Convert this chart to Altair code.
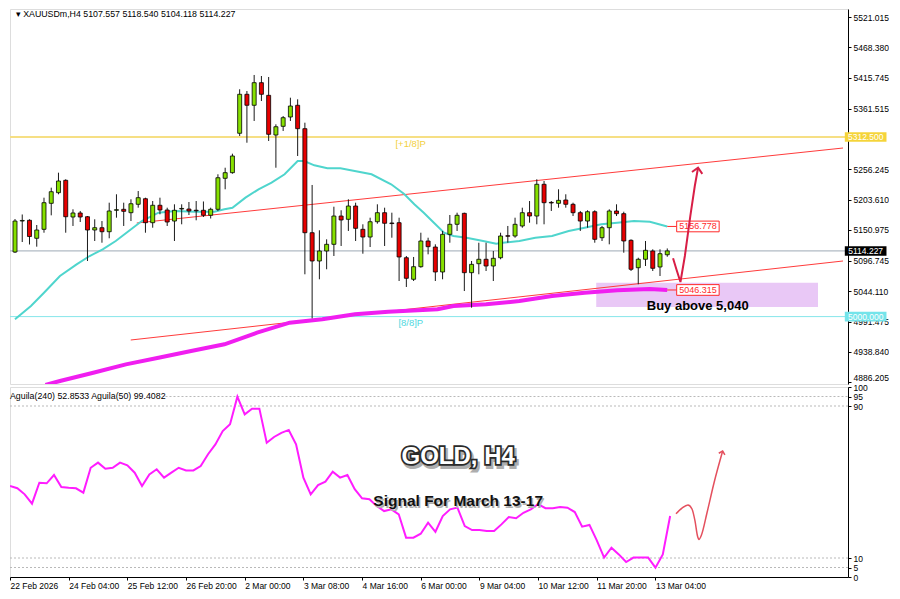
import altair as alt
import pandas as pd
import numpy as np

# ---------------- data ----------------
OPEN = [5112.3, 5166.2, 5167.5, 5136.2, 5151.8, 5197.0, 5215.5, 5237.0, 5173.2, 5180.2,
        5173.7, 5150.6, 5154.6, 5147.6, 5184.9, 5186.6, 5180.7, 5195.3, 5205.0, 5163.3,
        5193.6, 5185.4, 5166.2, 5187.1, 5187.1, 5184.5, 5184.9, 5176.2, 5186.6, 5240.5,
        5250.3, 5318.8, 5386.6, 5367.5, 5406.8, 5384.8, 5315.8, 5330.9, 5347.1, 5367.5,
        5326.8, 5145.9, 5096.7, 5114.1, 5125.7, 5174.9, 5169.2, 5192.3, 5151.8, 5138.4,
        5165.0, 5180.7, 5162.3, 5163.3, 5102.4, 5064.9, 5086.8, 5131.5, 5121.0, 5077.6,
        5143.1, 5160.5, 5179.6, 5076.4, 5092.0, 5099.7, 5088.0, 5102.4, 5140.2, 5140.2,
        5157.6, 5180.7, 5174.9, 5230.1, 5198.1, 5197.0, 5202.8, 5195.3, 5180.7, 5166.2,
        5182.4, 5137.2, 5154.6, 5183.7, 5179.0, 5132.7, 5085.0, 5099.7, 5114.1, 5086.3,
        5107.557]
HIGH = [5169.7, 5177.6, 5169.2, 5159.3, 5206.8, 5224.2, 5250.3, 5238.8, 5186.6, 5183.7,
        5174.9, 5169.2, 5166.2, 5198.1, 5212.7, 5198.1, 5204.0, 5218.4, 5206.8, 5201.0,
        5206.8, 5189.4, 5195.3, 5195.3, 5199.3, 5201.0, 5200.2, 5189.4, 5247.5, 5258.9,
        5283.3, 5395.3, 5392.3, 5420.2, 5418.4, 5416.7, 5334.4, 5348.8, 5380.7, 5377.9,
        5337.2, 5228.9, 5150.1, 5134.4, 5191.1, 5184.9, 5204.0, 5198.1, 5160.5, 5172.0,
        5195.3, 5189.4, 5180.7, 5172.0, 5105.4, 5103.7, 5145.9, 5137.2, 5125.7, 5148.9,
        5176.7, 5180.7, 5180.7, 5096.7, 5128.5, 5128.5, 5114.1, 5145.9, 5157.6, 5172.0,
        5189.4, 5201.0, 5238.8, 5235.8, 5201.0, 5221.4, 5212.7, 5198.1, 5183.7, 5184.9,
        5184.9, 5157.6, 5186.6, 5195.3, 5182.4, 5134.4, 5102.4, 5131.5, 5117.0, 5117.0,
        5118.540]
LOW = [5110.6, 5129.7, 5125.4, 5121.6, 5145.9, 5176.1, 5212.7, 5145.9, 5157.6, 5164.5,
       5096.7, 5131.5, 5128.5, 5136.2, 5172.0, 5157.6, 5166.2, 5189.4, 5145.9, 5154.6,
       5177.9, 5157.6, 5131.5, 5160.5, 5176.7, 5167.5, 5173.2, 5170.6, 5183.7, 5221.4,
       5248.5, 5314.1, 5302.4, 5340.2, 5374.9, 5305.4, 5258.9, 5322.8, 5340.2, 5279.3,
       5073.6, 4997.0, 5064.9, 5082.3, 5105.4, 5122.8, 5148.9, 5131.5, 5109.4, 5121.0,
       5161.6, 5122.8, 5137.2, 5061.9, 5051.5, 5061.9, 5085.0, 5108.3, 5061.9, 5064.9,
       5128.5, 5148.9, 5044.5, 5015.5, 5073.6, 5079.3, 5061.9, 5099.7, 5128.5, 5137.2,
       5154.6, 5163.3, 5160.5, 5160.5, 5183.7, 5189.4, 5189.4, 5174.9, 5148.9, 5154.6,
       5128.5, 5131.5, 5125.7, 5174.9, 5111.1, 5079.3, 5056.2, 5088.0, 5079.3, 5070.6,
       5104.118]
CLOSE = [5166.2, 5167.0, 5139.3, 5150.6, 5198.1, 5217.2, 5235.8, 5173.7, 5180.2, 5173.2,
         5150.6, 5154.6, 5147.6, 5183.7, 5185.6, 5183.1, 5196.3, 5206.8, 5163.3, 5193.6,
         5185.4, 5164.5, 5184.9, 5187.6, 5183.7, 5184.0, 5176.2, 5186.6, 5241.5, 5250.3,
         5279.3, 5386.6, 5367.5, 5406.8, 5386.6, 5317.0, 5330.2, 5345.9, 5366.2, 5326.8,
         5145.9, 5096.7, 5114.1, 5125.7, 5174.9, 5168.0, 5192.3, 5153.5, 5138.4, 5165.0,
         5180.7, 5162.3, 5161.8, 5103.7, 5066.6, 5086.8, 5131.5, 5121.6, 5077.6, 5143.1,
         5160.5, 5176.2, 5076.4, 5090.9, 5099.7, 5088.0, 5101.4, 5140.2, 5139.7, 5160.5,
         5180.7, 5174.9, 5230.1, 5198.1, 5197.6, 5202.2, 5195.3, 5180.7, 5166.2, 5182.4,
         5134.4, 5154.6, 5183.7, 5179.0, 5131.5, 5082.3, 5099.7, 5115.3, 5084.0, 5109.4,
         5114.227]

AGUILA = [47.9, 46.7, 43.5, 38.6, 49.6, 49.3, 53.7, 47.4, 47.0, 46.7,
          44.4, 57.5, 60.2, 57.0, 57.5, 60.2, 58.8, 54.9, 47.9, 54.0,
          56.7, 52.3, 54.9, 57.5, 56.1, 56.1, 58.4, 64.6, 69.8, 76.8,
          80.4, 94.9, 85.6, 88.6, 88.6, 70.7, 73.7, 75.9, 77.4, 69.8,
          52.3, 43.5, 48.4, 50.2, 55.4, 52.3, 53.7, 46.2, 41.4, 40.9,
          37.4, 34.7, 35.6, 33.0, 20.7, 20.7, 22.8, 28.6, 23.8, 32.1,
          35.6, 36.5, 26.8, 24.7, 24.7, 24.2, 24.2, 27.7, 31.6, 30.9,
          33.8, 35.6, 38.3, 36.2, 36.2, 36.8, 36.5, 34.2, 26.5, 27.4,
          19.3, 10.2, 15.4, 11.9, 7.9, 10.2, 10.2, 10.2, 4.9, 11.9, 32.1]

CYAN_I = [0, 2.2, 4.0, 6.2, 8.5, 10.3, 12.1, 13.9, 15.7, 17.5, 19.8, 22.1, 24.8, 27.5,
          28.9, 30.0, 31.8, 33.6, 35.4, 37.2, 39.0, 39.9, 41.3, 43.1, 44.9, 49.2, 51.9,
          53.7, 55.1, 56.4, 57.8, 59.2, 60.5, 62.3, 64.6, 66.4, 67.3, 69.6, 71.8, 74.1,
          76.4, 78.6, 80.9, 83.1, 85.4, 87.6, 90]
CYAN_P = [4995.3, 5018.4, 5041.6, 5070.6, 5090.9, 5105.4, 5117.0, 5131.5, 5148.9, 5166.2,
          5180.7, 5183.7, 5182.4, 5182.4, 5186.6, 5189.4, 5206.8, 5221.4, 5232.9, 5247.5,
          5270.6, 5270.6, 5263.1, 5257.9, 5257.9, 5247.5, 5230.1, 5213.2, 5195.3, 5180.7,
          5163.3, 5145.9, 5140.2, 5137.2, 5131.5, 5126.8, 5128.5, 5131.5, 5137.2, 5140.2,
          5148.9, 5154.6, 5160.5, 5163.3, 5166.2, 5165.0, 5156.8]

MAG_I = [4.2, 6.2, 10.8, 15.3, 19.8, 24.3, 28.9, 33.4, 37.9, 42.4, 46.9, 51.5, 58.3,
         60.5, 65.0, 69.6, 74.1, 78.6, 83.1, 87.6, 90]
MAG_P = [4881.1, 4888.0, 4902.4, 4917.0, 4928.5, 4940.2, 4951.8, 4972.0, 4989.4, 4995.3,
         5004.0, 5008.5, 5012.7, 5018.4, 5021.4, 5027.1, 5035.8, 5041.6, 5045.7, 5048.2, 5046.3]

CHANNEL_NAME = ["upper", "upper", "lower", "lower"]
CHANNEL_I = [16.8, 114.25, 15.97, 114.25]
CHANNEL_P = [5162.8, 5293.2, 4959.3, 5096.7]

TIME_POS = [0, 8, 16, 24, 32, 40, 48, 56, 64, 72, 80, 88]
TIME_LABELS = ["22 Feb 2026", "24 Feb 04:00", "25 Feb 12:00", "26 Feb 20:00", "2 Mar 00:00",
               "3 Mar 08:00", "4 Mar 16:00", "6 Mar 00:00", "9 Mar 04:00", "10 Mar 12:00",
               "11 Mar 20:00", "13 Mar 04:00"]
PRICE_TICKS = [5521.015, 5468.380, 5415.745, 5361.515, 5256.245, 5203.610,
               5150.975, 5096.745, 5044.110, 4991.475, 4938.840, 4886.205]
IND_TICKS = [0, 5, 10, 90, 95, 100]
IND_LEVELS = [95, 90, 10, 5]
IND_LEVEL_START = [21.2, 0, 0, 0]

LEVEL_YELLOW = 5312.5
LEVEL_CYAN = 5000.0
LAST_PRICE = 5114.227
MA_FAST_LAST = 5156.778
MA_SLOW_LAST = 5046.315

ZONE = [80.2, 110.8, 5016.7, 5058.9]

ARROW_I = [90.80, 91.27, 91.82, 92.43, 93.18, 93.80, 94.25]
ARROW_P = [5101.4, 5081.9, 5060.2, 5105.4, 5174.9, 5227.1, 5258.9]

IARROW_I = [90.80, 91.62, 92.43, 92.98, 93.39, 93.73, 93.93, 94.27, 95.02, 95.98, 97.16]
IARROW_V = [33.3, 36.3, 37.9, 35.8, 29.5, 21.6, 19.8, 22.1, 33.7, 49.5, 66.3]

# ---------------- scales / axes ----------------
FONT = "Liberation Sans"
X_DOMAIN = [0, 114.25]
Y_DOMAIN = [4882.8, 5534.93]
W, H1, H2 = 838, 375, 190

XS = alt.Scale(domain=X_DOMAIN, nice=False, zero=False)
YS = alt.Scale(domain=Y_DOMAIN, nice=False, zero=False)
IS = alt.Scale(domain=[0, 100], nice=False, zero=False)

yaxis = alt.Axis(orient="right", values=PRICE_TICKS, format=".3f", title=None, grid=False,
                 tickSize=3, labelFontSize=8.5, labelFont=FONT, labelColor="black",
                 domainColor="black", tickColor="black", labelPadding=2,
                 labelFlush=5, labelOverlap=False)
label_arr = "[" + ",".join("'%s'" % t for t in TIME_LABELS) + "]"
xaxis = alt.Axis(orient="bottom", values=TIME_POS, labelExpr=label_arr + "[round(datum.value/8)]",
                 title=None, grid=False, tickSize=3, labelAlign="left", labelPadding=1,
                 labelFontSize=8.5, labelFont=FONT, labelColor="black", domainColor="black",
                 tickColor="black", labelFlush=False, labelOverlap=False)
iaxis = alt.Axis(orient="right", values=IND_TICKS, format="d", title=None, grid=False,
                 tickSize=3, labelFontSize=8.5, labelFont=FONT, labelColor="black",
                 domainColor="black", tickColor="black", labelPadding=2, labelOverlap=False)


def PX(f):
    return alt.X(f, type="quantitative", scale=XS, axis=None)


def PY(f):
    return alt.Y(f, type="quantitative", scale=YS, axis=yaxis)


def IX(f):
    return alt.X(f, type="quantitative", scale=XS, axis=xaxis)


def IY(f):
    return alt.Y(f, type="quantitative", scale=IS, axis=iaxis)


# ---------------- tables ----------------
o = np.array(OPEN); c = np.array(CLOSE)
candles = pd.DataFrame({"i": np.arange(len(OPEN)), "o": o, "h": HIGH, "l": LOW, "c": c})
candles["dir"] = np.where(c >= o, "up", "down")
candles["blo"] = np.minimum(o, c)
candles["bhi"] = np.maximum(np.maximum(o, c), candles["blo"] + 1.0)

zone_df = pd.DataFrame({"x0": [ZONE[0]], "x1": [ZONE[1]], "y0": [ZONE[2]], "y1": [ZONE[3]]})
chan_df = pd.DataFrame({"name": CHANNEL_NAME, "i": CHANNEL_I, "p": CHANNEL_P})
cyan_df = pd.DataFrame({"i": CYAN_I, "p": CYAN_P})
mag_df = pd.DataFrame({"i": MAG_I, "p": MAG_P})
arrow_df = pd.DataFrame({"i": ARROW_I, "p": ARROW_P, "k": range(len(ARROW_I))})
ahead_df = arrow_df.tail(1)

# ---------------- price panel ----------------
zone = alt.Chart(zone_df).mark_rect(color="#e9c8f6").encode(x=PX("x0"), x2="x1", y=PY("y0"), y2="y1")

def hrule(p, color, w):
    return alt.Chart(pd.DataFrame({"p": [p]})).mark_rule(color=color, strokeWidth=w).encode(y=PY("p"))

r_yel = hrule(LEVEL_YELLOW, "#f6df84", 2)
r_cya = hrule(LEVEL_CYAN, "#86e6ea", 1)
r_last = hrule(LAST_PRICE, "#9ea9b5", 1)

channel = alt.Chart(chan_df).mark_line(color="#ff3b3b", strokeWidth=1, clip=True).encode(
    x=PX("i"), y=PY("p"), detail="name:N")
cyan = alt.Chart(cyan_df).mark_line(color="#4fd5cd", strokeWidth=2, clip=True).encode(x=PX("i"), y=PY("p"))
mag = alt.Chart(mag_df).mark_line(color="#f01ef0", strokeWidth=4, clip=True).encode(x=PX("i"), y=PY("p"))

wicks = alt.Chart(candles).mark_rule(color="#1a1a1a", strokeWidth=1, clip=True).encode(
    x=PX("i"), y=PY("l"), y2="h")
bodies = alt.Chart(candles).mark_bar(size=4, stroke="black", strokeWidth=0.8, clip=True).encode(
    x=PX("i"), y=PY("blo"), y2="bhi",
    color=alt.Color("dir:N", scale=alt.Scale(domain=["up", "down"], range=["#86e000", "#e60000"]), legend=None))

arrow = alt.Chart(arrow_df).mark_line(color="#d81e46", strokeWidth=2).encode(x=PX("i"), y=PY("p"), order="k:Q")
ahead = alt.Chart(ahead_df).mark_point(shape="M -1 1 L 0 0 L 1 1", filled=False, size=110, angle=10,
                                       strokeWidth=2, color="#d81e46", opacity=1).encode(x=PX("i"), y=PY("p"))

# price labels next to the MAs
ml_df = pd.DataFrame({"p": [MA_FAST_LAST, MA_SLOW_LAST], "t": ["%.3f" % MA_FAST_LAST, "%.3f" % MA_SLOW_LAST]})
ml_df["x0"] = 91.3; ml_df["x1"] = 97.16; ml_df["xc"] = 94.23; ml_df["xs"] = 90.0
ml_df["y0"] = ml_df["p"] - 9.3; ml_df["y1"] = ml_df["p"] + 9.3
ml_conn = alt.Chart(ml_df).mark_rule(color="#ff2a2a", strokeWidth=1).encode(x=PX("xs"), x2="x0", y=PY("p"))
ml_box = alt.Chart(ml_df).mark_rect(fill="white", stroke="#ff2a2a", strokeWidth=1).encode(
    x=PX("x0"), x2="x1", y=PY("y0"), y2="y1")
ml_txt = alt.Chart(ml_df).mark_text(color="#ff2a2a", fontSize=9, font=FONT).encode(
    x=PX("xc"), y=PY("p"), text="t:N")

# boxes on the right price axis
ax_df = pd.DataFrame({"p": [LEVEL_YELLOW, LAST_PRICE, LEVEL_CYAN],
                      "t": ["%.3f" % LEVEL_YELLOW, "%.3f" % LAST_PRICE, "%.3f" % LEVEL_CYAN],
                      "bg": ["#f5d43a", "#000000", "#74e4ea"]})
ax_df["x0"] = 114.5; ax_df["x1"] = 120.25; ax_df["xc"] = 117.38
ax_df["y0"] = ax_df["p"] - 8.3; ax_df["y1"] = ax_df["p"] + 8.3
ax_box = alt.Chart(ax_df).mark_rect().encode(
    x=PX("x0"), x2="x1", y=PY("y0"), y2="y1", color=alt.Color("bg:N", scale=None))
ax_txt = alt.Chart(ax_df).mark_text(color="white", fontSize=8.5, font=FONT).encode(
    x=PX("xc"), y=PY("p"), text="t:N")

hdr = alt.Chart(pd.DataFrame({"x": [0.1], "p": [Y_DOMAIN[1] - 1.0],
                              "t": ["\u25BE XAUUSDm,H4  5107.557 5118.540 5104.118 5114.227"]})).mark_text(
    align="left", baseline="top", fontSize=8.8, font=FONT, color="black").encode(x=PX("x"), y=PY("p"), text="t:N")

lvl_txt_df = pd.DataFrame({"x": [52.5, 52.9], "p": [5301.0, 4989.4], "t": ["[+1/8]P", "[8/8]P"],
                           "col": ["#f2cf40", "#4fd8e0"]})
lvl_txt = alt.Chart(lvl_txt_df).mark_text(align="left", fontSize=9.5, font=FONT).encode(
    x=PX("x"), y=PY("p"), text="t:N", color=alt.Color("col:N", scale=None))

buy = alt.Chart(pd.DataFrame({"x": [94.2], "p": [5018.4], "t": ["Buy above 5,040"]})).mark_text(
    fontSize=13, fontWeight="bold", font=FONT, color="black").encode(x=PX("x"), y=PY("p"), text="t:N")

price = alt.layer(zone, r_yel, r_cya, r_last, channel, cyan, mag, wicks, bodies,
                  ml_conn, ml_box, ml_txt, arrow, ahead, ax_box, ax_txt, hdr, lvl_txt, buy
                  ).properties(width=W, height=H1)

# ---------------- indicator panel ----------------
lev_df = pd.DataFrame({"v": IND_LEVELS, "x0": IND_LEVEL_START, "x1": [X_DOMAIN[1]] * len(IND_LEVELS)})
levels = alt.Chart(lev_df).mark_rule(color="#b9b9b9", strokeWidth=1, strokeDash=[2, 2]).encode(
    x=IX("x0"), x2="x1", y=IY("v"))
ind_df = pd.DataFrame({"i": np.arange(len(AGUILA)), "v": AGUILA})
ind = alt.Chart(ind_df).mark_line(color="#ff1cff", strokeWidth=2, clip=True).encode(x=IX("i"), y=IY("v"))

iar_df = pd.DataFrame({"i": IARROW_I, "v": IARROW_V})
iarrow = alt.Chart(iar_df).mark_line(color="#e4505e", strokeWidth=1.5, interpolate="monotone").encode(
    x=IX("i"), y=IY("v"))
iahead = alt.Chart(iar_df.tail(1)).mark_point(shape="M -1 1 L 0 0 L 1 1", filled=False, size=40, angle=15,
                                             strokeWidth=1.5, color="#e4505e", opacity=1).encode(
    x=IX("i"), y=IY("v"))

ihdr = alt.Chart(pd.DataFrame({"x": [0.0], "v": [95.5],
                               "t": ["Aguila(240) 52.8533  Aguila(50) 99.4082"]})).mark_text(
    align="left", baseline="middle", fontSize=8.8, font=FONT, color="black").encode(x=IX("x"), y=IY("v"), text="t:N")

gold_df = pd.DataFrame({"x": [61.1], "v": [62.9], "t": ["GOLD, H4"]})
gold_sh = alt.Chart(gold_df).mark_text(fontSize=24, fontWeight="bold", font=FONT, color="#9a9a9a",
                                       stroke="#9a9a9a", strokeWidth=4, dx=2, dy=3, opacity=0.8).encode(
    x=IX("x"), y=IY("v"), text="t:N")
gold_ol = alt.Chart(gold_df).mark_text(fontSize=24, fontWeight="bold", font=FONT, color="#2a2a2a",
                                       stroke="#2a2a2a", strokeWidth=3.5).encode(x=IX("x"), y=IY("v"), text="t:N")
gold = alt.Chart(gold_df).mark_text(fontSize=24, fontWeight="bold", font=FONT, color="white").encode(
    x=IX("x"), y=IY("v"), text="t:N")

sig_df = pd.DataFrame({"x": [61.1], "v": [40.0], "t": ["Signal For March 13-17"]})
sig_sh = alt.Chart(sig_df).mark_text(fontSize=15.5, fontWeight="bold", font=FONT, color="#b0b0b0",
                                     dx=1.5, dy=1.5).encode(x=IX("x"), y=IY("v"), text="t:N")
sig = alt.Chart(sig_df).mark_text(fontSize=15.5, fontWeight="bold", font=FONT, color="#111111").encode(
    x=IX("x"), y=IY("v"), text="t:N")

indicator = alt.layer(levels, ind, iarrow, iahead, ihdr, gold_sh, gold_ol, gold, sig_sh, sig
                      ).properties(width=W, height=H2)

chart = alt.vconcat(price, indicator, spacing=3, bounds="flush").resolve_scale(
    x="independent", y="independent").resolve_axis(x="independent", y="independent").properties(
    padding=0, background="white").configure_view(stroke="black", strokeWidth=1).configure(font=FONT)

chart.save("out.html", embed_options={"renderer": "svg", "actions": False})
